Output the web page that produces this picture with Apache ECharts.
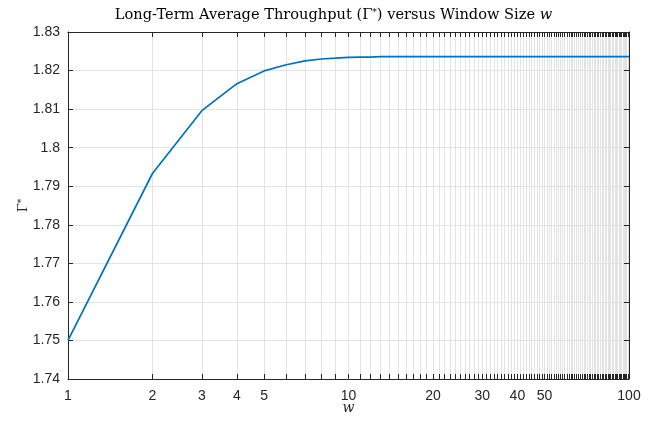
<!DOCTYPE html>
<html><head><meta charset="utf-8">
<script src="https://cdn.jsdelivr.net/npm/echarts@6/dist/echarts.min.js"></script>
<style>html,body{margin:0;padding:0;background:#fff;}#c{width:667px;height:422px;}</style>
</head><body><div id="c"></div>
<script>
const windowSizes = [1,2,3,4,5,6,7,8,9,10,11,12,13,14,15,16,17,18,19,20,25,30,35,40,45,50,60,70,80,90,100];
const throughput = [1.7500,1.7933,1.8096,1.8166,1.8199,1.8215,1.8225,1.8230,1.8232,1.8234,1.8235,1.8235,1.8236,1.8236,1.8236,1.8236,1.8236,1.8236,1.8236,1.8236,1.8236,1.8236,1.8236,1.8236,1.8236,1.8236,1.8236,1.8236,1.8236,1.8236,1.8236];
const xTickLabels = [1,2,3,4,5,10,20,30,40,50,100];
const xTicks = [];
for (let i = 1; i <= 100; i++) xTicks.push(i);
const yMin = 1.74, yMax = 1.83, yStep = 0.01;

const chart = echarts.init(document.getElementById('c'), null, {renderer:'canvas'});
const axisColor = '#262626';
const gridColor = '#e3e3e3';
const lblFont = '"Liberation Sans", Arial, sans-serif';
chart.setOption({
  animation:false,
  title:{
    text:'Long-Term Average Throughput (Γ{sup|*}) versus Window Size {it|w}',
    left:'center', top:3,
    textStyle:{fontFamily:'DejaVu Serif, serif', fontSize:14.6, fontWeight:'normal', color:'#000',
      rich:{sup:{fontSize:9, verticalAlign:'top', padding:[0,0,6,0], fontFamily:'DejaVu Serif'}, it:{fontStyle:'italic', fontSize:14.6, fontFamily:'DejaVu Serif'}}}
  },
  grid:{left:68, top:32, width:561, height:347, containLabel:false, outerBoundsMode:'none'},
  xAxis:[{
    type:'log', logBase:10, min:1, max:100,
    name:'w', nameLocation:'middle', nameGap:22, nameMoveOverlap:false,
    nameTextStyle:{fontFamily:'DejaVu Serif', fontStyle:'italic', fontSize:14, color:'#262626'},
    axisLine:{show:true, lineStyle:{color:axisColor, width:1}},
    axisTick:{show:true, inside:true, length:5, customValues:xTicks, lineStyle:{color:axisColor}},
    axisLabel:{customValues:xTickLabels, color:axisColor, fontSize:14, fontFamily:lblFont, margin:10},
    splitLine:{show:true, lineStyle:{color:gridColor, width:1}},
    minorTick:{show:false}
  },{
    type:'log', logBase:10, min:1, max:100, position:'top',
    axisLine:{show:true, lineStyle:{color:axisColor, width:1}},
    axisTick:{show:true, inside:true, length:5, customValues:xTicks, lineStyle:{color:axisColor}},
    axisLabel:{show:false}, splitLine:{show:false}
  }],
  yAxis:[{
    type:'value', min:yMin, max:yMax, interval:yStep,
    name:'{g|Γ}{s|*}', nameLocation:'middle', nameGap:37, nameRotate:90, nameMoveOverlap:false,
    nameTextStyle:{fontFamily:'DejaVu Serif', fontSize:13, color:'#262626',
      rich:{g:{fontFamily:'DejaVu Serif', fontSize:13, color:'#262626'}, s:{fontFamily:'DejaVu Serif', fontSize:9, color:'#262626', verticalAlign:'top', padding:[0,0,5,0]}}},
    axisLine:{show:true, lineStyle:{color:axisColor}},
    axisTick:{show:true, inside:true, length:5, lineStyle:{color:axisColor}},
    axisLabel:{color:axisColor, fontSize:14, fontFamily:lblFont, margin:8, formatter:v=>String(+v.toFixed(2))},
    splitLine:{show:true, lineStyle:{color:gridColor}}
  },{
    type:'value', min:yMin, max:yMax, interval:yStep, position:'right',
    axisLine:{show:true, lineStyle:{color:axisColor}},
    axisTick:{show:true, inside:true, length:5, lineStyle:{color:axisColor}},
    axisLabel:{show:false}, splitLine:{show:false}
  }],
  series:[{
    type:'line', xAxisIndex:0, yAxisIndex:0,
    data: windowSizes.map((w,i)=>[w, throughput[i]]),
    showSymbol:false, lineStyle:{color:'#0072BD', width:1.7}, itemStyle:{color:'#0072BD'}
  }]
});
</script></body></html>
